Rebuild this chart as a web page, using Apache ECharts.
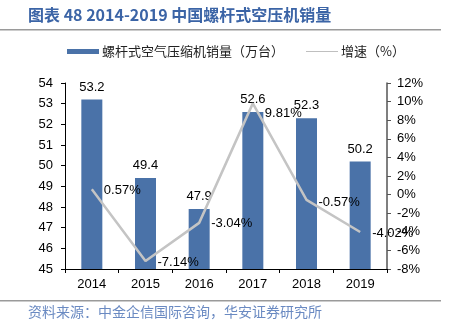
<!DOCTYPE html>
<html><head><meta charset="utf-8">
<script src="https://cdn.jsdelivr.net/npm/echarts@6/dist/echarts.min.js"></script>
<style>html,body{margin:0;padding:0;background:#fff;}#c{width:449px;height:329px;}</style>
</head><body><div id="c"></div>
<script>
const categories = ['2014','2015','2016','2017','2018','2019'];
const sales = [53.2, 49.4, 47.9, 52.6, 52.3, 50.2];
const growth = [0.57, -7.14, -3.04, 9.81, -0.57, -4.02];
const leftTicks = {min: 45, max: 54, interval: 1};
const rightTicks = {min: -8, max: 12, interval: 2};
const titleText = '图表 48 2014-2019 中国螺杆式空压机销量';
const sourceText = '资料来源：中金企信国际咨询，华安证券研究所';
const seriesNames = ['螺杆式空气压缩机销量（万台）', '增速（%）'];

const numFont = 'Liberation Sans, Arial, sans-serif';
const cjkFont = 'Noto Sans CJK SC, sans-serif';
// vertical nudges (style only) for the growth labels
const growthLabelDy = [1, 1, 1, 10, 3, 1];

const chart = echarts.init(document.getElementById('c'), null, {renderer: 'canvas'});
chart.setOption({
  animation: false,
  backgroundColor: '#fff',
  graphic: [
    {type: 'text', left: 28, top: 7, style: {text: titleText, font: 'bold 16px ' + cjkFont, fill: '#3B64A6'}},
    {type: 'rect', shape: {x: 0, y: 29, width: 441, height: 1.5}, style: {fill: '#9a9a9a'}},
    {type: 'rect', shape: {x: 0, y: 300, width: 441, height: 1.5}, style: {fill: '#9a9a9a'}},
    {type: 'text', left: 28, top: 305, style: {text: sourceText, font: '14px ' + cjkFont, fill: '#6A8AC2'}}
  ],
  legend: {
    top: 40, left: 62, itemGap: 22, itemWidth: 32, itemHeight: 5,
    textStyle: {fontFamily: cjkFont, fontSize: 13, color: '#222', padding: [0, 0, 0, -2]},
    data: [
      {name: seriesNames[0], icon: 'rect'},
      {name: seriesNames[1], icon: 'path://M0,0 L32,0 L32,1 L0,1 Z', itemStyle: {color: '#bfbfbf', opacity: 1}}
    ]
  },
  grid: {left: 65, right: 62, top: 83, bottom: 60},
  xAxis: {
    type: 'category', data: categories,
    axisLine: {onZero: false, lineStyle: {color: '#000', width: 1}},
    axisTick: {show: true, alignWithLabel: false, length: 4, lineStyle: {color: '#000'}},
    axisLabel: {fontFamily: numFont, fontSize: 13, color: '#000', margin: 9}
  },
  yAxis: [
    {type: 'value', min: leftTicks.min, max: leftTicks.max, interval: leftTicks.interval,
     axisLine: {show: true, lineStyle: {color: '#000'}},
     axisTick: {show: true, length: 4, lineStyle: {color: '#000'}},
     splitLine: {show: false},
     axisLabel: {fontFamily: numFont, fontSize: 13, color: '#000', margin: 12}},
    {type: 'value', min: rightTicks.min, max: rightTicks.max, interval: rightTicks.interval,
     axisLine: {show: true, lineStyle: {color: '#555', width: 1.5}},
     axisTick: {show: true, length: 4, lineStyle: {color: '#555'}},
     splitLine: {show: false},
     axisLabel: {fontFamily: numFont, fontSize: 13, color: '#000', margin: 10, formatter: '{value}%'}}
  ],
  series: [
    {name: seriesNames[0], type: 'bar', data: sales, barWidth: 21,
     itemStyle: {color: '#4A72A8'},
     label: {show: true, position: 'top', distance: 6, fontFamily: numFont, fontSize: 13, color: '#000'}},
    {name: seriesNames[1], type: 'line', yAxisIndex: 1, data: growth,
     symbol: 'circle', symbolSize: 0, showSymbol: true,
     lineStyle: {color: '#c4c4c4', width: 2.5}, itemStyle: {color: '#c4c4c4'},
     label: {show: true, position: 'right', distance: 12, fontFamily: numFont, fontSize: 13, color: '#000',
             formatter: p => p.value.toFixed(2) + '%'},
     labelLayout: p => ({dy: growthLabelDy[p.dataIndex], hideOverlap: false}),
     z: 3}
  ]
});
</script></body></html>
